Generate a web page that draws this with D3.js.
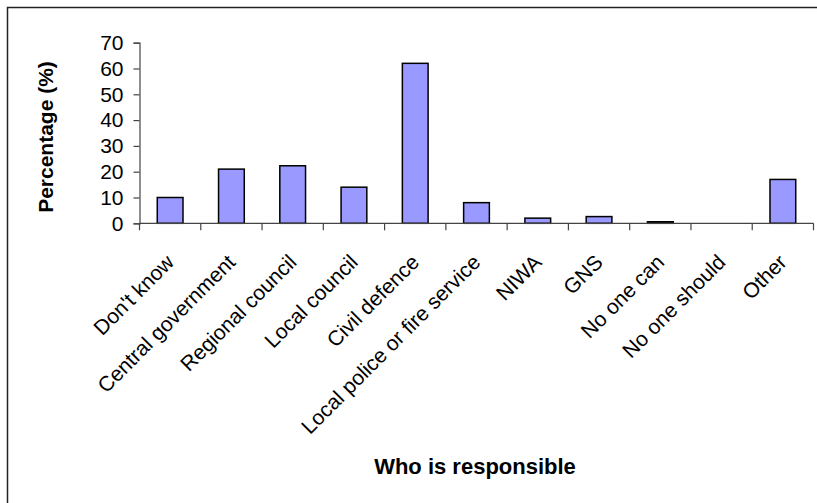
<!DOCTYPE html>
<html>
<head>
<meta charset="utf-8">
<script src="https://cdn.jsdelivr.net/npm/d3@7"></script>
<style>
  html, body { margin: 0; padding: 0; background: #fff; }
  svg { display: block; }
  text { font-family: "Liberation Sans", Arial, sans-serif; fill: #000; }
</style>
</head>
<body>
<div id="chart"></div>
<script>
// Survey responses: who is responsible
const categories = [
  "Don't know", "Central government", "Regional council", "Local council",
  "Civil defence", "Local police or fire service", "NIWA", "GNS",
  "No one can", "No one should", "Other"
];
const percentages = [10, 21, 22.3, 14, 62, 8, 2, 2.6, 0.6, 0, 17];
const yTicks = [0, 10, 20, 30, 40, 50, 60, 70];
const xTitle = "Who is responsible";
const yTitle = "Percentage (%)";

const W = 817, H = 503;
const plot = { left: 139.5, right: 813.5, top: 42.7, bottom: 223.3 };

const svg = d3.select("#chart").append("svg")
  .attr("width", W).attr("height", H);

// outer frame (left and top edges visible inside the window)
svg.append("rect")
  .attr("x", 7.5).attr("y", 7.5)
  .attr("width", W + 20).attr("height", H + 20)
  .attr("fill", "#fff").attr("stroke", "#222").attr("stroke-width", 1.5);

const x = d3.scaleBand()
  .domain(categories)
  .range([plot.left, plot.right])
  .paddingInner(0.58).paddingOuter(0.29);

const y = d3.scaleLinear().domain([0, 70]).range([plot.bottom, plot.top]);

// bars
svg.append("g").selectAll("rect")
  .data(categories.map((c, i) => ({ c, v: percentages[i] })))
  .join("rect")
  .attr("x", d => x(d.c))
  .attr("width", x.bandwidth())
  .attr("y", d => y(d.v))
  .attr("height", d => y(0) - y(d.v))
  .attr("fill", "#9999ff")
  .attr("stroke", "#000")
  .attr("stroke-width", 1.5);

// y axis
const yAxis = svg.append("g")
  .attr("transform", `translate(${plot.left},0)`)
  .call(d3.axisLeft(y).tickValues(yTicks).tickSize(6).tickPadding(10).tickFormat(d3.format("d")));
yAxis.select(".domain").attr("stroke", "#444").attr("stroke-width", 1.2);
yAxis.selectAll(".tick line").attr("stroke", "#444").attr("stroke-width", 1.2);
yAxis.selectAll(".tick text")
  .style("font-family", "'Liberation Sans', Arial, sans-serif")
  .style("font-size", "21px").attr("fill", "#000");

// x axis: baseline with tick marks at category boundaries
const step = x.step();
const bounds = d3.range(categories.length + 1).map(i => plot.left + i * step);
const xg = svg.append("g");
xg.append("line")
  .attr("x1", plot.left).attr("x2", plot.right)
  .attr("y1", y(0)).attr("y2", y(0))
  .attr("stroke", "#444").attr("stroke-width", 1.2);
xg.selectAll("line.tk").data(bounds).join("line")
  .attr("class", "tk")
  .attr("x1", d => d).attr("x2", d => d)
  .attr("y1", y(0)).attr("y2", y(0) + 7)
  .attr("stroke", "#444").attr("stroke-width", 1.2);

// rotated category labels
xg.selectAll("text").data(categories).join("text")
  .attr("transform", d => `translate(${x(d) + x.bandwidth() / 2},${y(0) + 35}) rotate(-45)`)
  .attr("text-anchor", "end")
  .attr("dy", "0.35em")
  .style("font-size", "21px")
  .text(d => d);

// axis titles
svg.append("text")
  .attr("transform", `translate(53,${(plot.top + plot.bottom) / 2 + 4}) rotate(-90)`)
  .attr("text-anchor", "middle")
  .style("font-size", "21px").style("font-weight", "bold")
  .text(yTitle);

svg.append("text")
  .attr("x", 475).attr("y", 474)
  .attr("text-anchor", "middle")
  .style("font-size", "22px").style("font-weight", "bold")
  .text(xTitle);
</script>
</body>
</html>
